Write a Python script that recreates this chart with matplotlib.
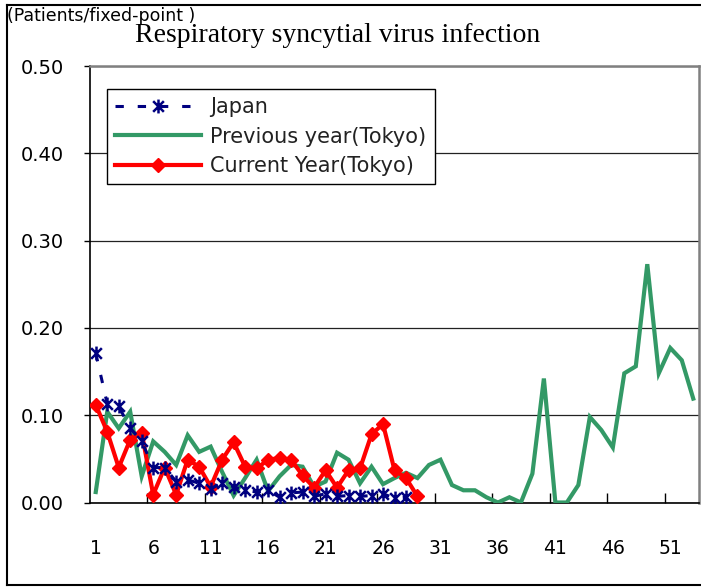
import matplotlib
matplotlib.use("Agg")
import matplotlib.pyplot as plt
from matplotlib.path import Path
from matplotlib.lines import Line2D

# ---- data ----
weeks = list(range(1, 54))
japan = [0.171, 0.113, 0.110, 0.085, 0.070, 0.040, 0.040, 0.024, 0.026, 0.022,
         0.016, 0.022, 0.018, 0.014, 0.012, 0.014, 0.006, 0.011, 0.012, 0.007,
         0.010, 0.007, 0.008, 0.007, 0.008, 0.010, 0.005, 0.006]
previous_tokyo = [0.012, 0.104, 0.085, 0.104, 0.030, 0.070, 0.058, 0.043, 0.077, 0.058,
                  0.064, 0.035, 0.008, 0.028, 0.049, 0.013, 0.030, 0.043, 0.041, 0.018,
                  0.024, 0.057, 0.049, 0.022, 0.041, 0.021, 0.028, 0.034, 0.028, 0.043,
                  0.049, 0.020, 0.014, 0.014, 0.006, 0.000, 0.006, 0.000, 0.033, 0.142,
                  0.000, 0.000, 0.020, 0.098, 0.083, 0.063, 0.148, 0.156, 0.273, 0.148,
                  0.177, 0.163, 0.119]
current_tokyo = [0.112, 0.081, 0.040, 0.072, 0.080, 0.009, 0.040, 0.009, 0.049, 0.041,
                 0.018, 0.049, 0.069, 0.041, 0.039, 0.049, 0.051, 0.049, 0.031, 0.017,
                 0.037, 0.017, 0.037, 0.039, 0.078, 0.090, 0.037, 0.028, 0.007]
xtick_labels = ["1", "6", "11", "16", "21", "26", "31", "36", "41", "46", "51"]
ytick_values = [0.0, 0.1, 0.2, 0.3, 0.4, 0.5]
series_names = ["Japan", "Previous year(Tokyo)", "Current Year(Tokyo)"]
title = "Respiratory syncytial virus infection"
unit_label = "(Patients/fixed-point )"

W, H = 701, 588
fig = plt.figure(figsize=(W / 100, H / 100), dpi=100)
ax = fig.add_axes([90 / W, 1 - 502.5 / H, (699 - 90) / W, (502.5 - 66) / H])

asterisk = Path([(-1, -1), (1, 1), (-1, 1), (1, -1), (0, -1.3), (0, 1.3)],
                [Path.MOVETO, Path.LINETO, Path.MOVETO, Path.LINETO, Path.MOVETO, Path.LINETO])

green = "#339966"
navy = "#000080"
red = "#FF0000"

ax.plot(weeks[:len(previous_tokyo)], previous_tokyo, color=green, lw=3.0,
        solid_joinstyle="miter", zorder=3, label=series_names[1])
ax.plot(weeks[:len(current_tokyo)], current_tokyo, color=red, lw=3.0, marker="D",
        ms=7, mec=red, mfc=red, zorder=4, label=series_names[2])
lw_j = 2.2
ax.plot(weeks[:len(japan)], japan, color=navy, lw=lw_j, dashes=(6 / lw_j, 10 / lw_j),
        marker=asterisk, ms=10, mec=navy, mfc="none", mew=1.8, zorder=5,
        label=series_names[0])

ax.set_xlim(0.5, 53.5)
ax.set_ylim(0, 0.5)
ax.set_yticks(ytick_values)
ax.set_yticklabels([f"{v:.2f}" for v in ytick_values])
ax.set_xticks([int(s) for s in xtick_labels])
ax.set_xticklabels(xtick_labels)
ax.set_xticks([5.5 + 5 * i for i in range(10)], minor=True)
ax.tick_params(axis="x", which="major", length=0, pad=26, labelsize=13.5)
ax.tick_params(axis="x", which="minor", direction="in", length=7, width=1, color="black")
ax.tick_params(axis="y", direction="out", length=4, width=1, pad=15, labelsize=14)
ax.yaxis.grid(True, color="#222222", lw=0.9)
ax.set_axisbelow(True)
for s in ["left", "bottom"]:
    ax.spines[s].set_color("black")
    ax.spines[s].set_linewidth(1.2)
for s in ["top", "right"]:
    ax.spines[s].set_color("#808080")
    ax.spines[s].set_linewidth(1.8)

handles, labels = ax.get_legend_handles_labels()
order = [2, 0, 1]
leg = ax.legend([handles[i] for i in order], [labels[i] for i in order],
                loc="upper left", bbox_to_anchor=(107 / W, 1 - 89 / H),
                bbox_transform=fig.transFigure, borderaxespad=0, fancybox=False,
                frameon=True, edgecolor="black", framealpha=1, fontsize=15,
                handlelength=4.1, handletextpad=0.45, labelspacing=0.45,
                borderpad=0.4, numpoints=1)
leg.get_frame().set_linewidth(1.0)
for t in leg.get_texts():
    t.set_color("#222222")

fig.text(338 / W, 1 - 36 / H, title, family="Liberation Serif", fontsize=20,
         ha="center", va="center")
fig.text(7 / W, 1 - 16 / H, unit_label, fontsize=12.5, ha="left", va="center")

# chart border
fig.add_artist(Line2D([7 / W, 7 / W], [1 - 585 / H, 1 - 5 / H], transform=fig.transFigure,
                      color="black", lw=1.5))
fig.add_artist(Line2D([7 / W, 1.0], [1 - 5 / H, 1 - 5 / H], transform=fig.transFigure,
                      color="black", lw=1.5))
fig.add_artist(Line2D([7 / W, 1.0], [1 - 585 / H, 1 - 585 / H], transform=fig.transFigure,
                      color="black", lw=1.5))

fig.savefig("out.png", dpi=100)
